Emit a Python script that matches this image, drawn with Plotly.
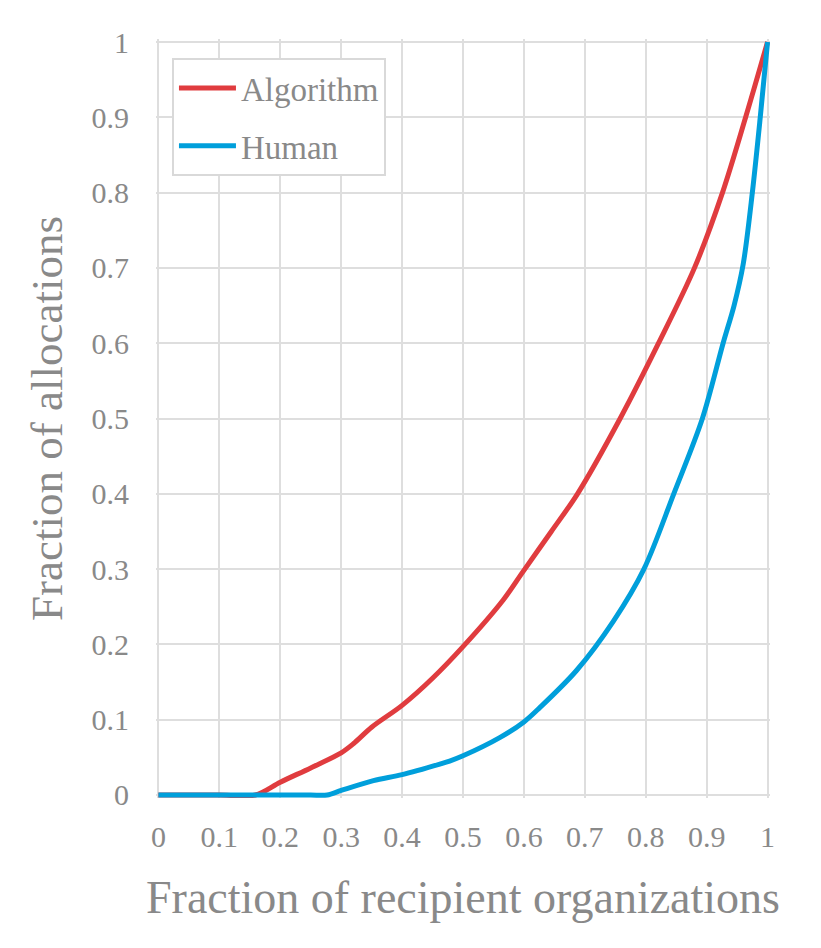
import plotly.graph_objects as go

# Data
algo_x = [0, 0.05, 0.10, 0.159, 0.20, 0.25, 0.30, 0.32, 0.35, 0.40, 0.45, 0.50,
          0.566, 0.598, 0.645, 0.688, 0.758, 0.821, 0.880, 0.926, 0.964, 1.0]
algo_y = [0, 0, 0, 0, 0.017, 0.036, 0.056, 0.068, 0.090, 0.119, 0.155, 0.197,
          0.259, 0.296, 0.350, 0.400, 0.500, 0.600, 0.700, 0.800, 0.900, 1.0]

human_x = [0, 0.05, 0.10, 0.15, 0.20, 0.25, 0.277, 0.30, 0.353, 0.40, 0.462, 0.478,
           0.50, 0.561, 0.60, 0.626, 0.686, 0.747, 0.797, 0.846, 0.893, 0.927,
           0.945, 0.960, 0.975, 0.988, 1.0]
human_y = [0, 0, 0, 0, 0, 0, 0, 0.006, 0.019, 0.027, 0.041, 0.045,
           0.052, 0.0765, 0.097, 0.116, 0.165, 0.231, 0.300, 0.400, 0.500, 0.600,
           0.650, 0.705, 0.800, 0.900, 1.0]

tick_vals = [0, 0.1, 0.2, 0.3, 0.4, 0.5, 0.6, 0.7, 0.8, 0.9, 1.0]
tick_text = ["0", "0.1", "0.2", "0.3", "0.4", "0.5", "0.6", "0.7", "0.8", "0.9", "1"]

FONT = "Liberation Serif, Times New Roman, serif"
TXT = "#898989"
GRID = "#DEDEDE"

# page body has an 8px margin; margins compensate so the plot lands where the reference has it
L, T, W, H = 148, 31, 614, 759

fig = go.Figure()
fig.add_trace(go.Scatter(x=algo_x, y=algo_y, mode="lines", name="Algorithm",
                         legendgroup="a",
                         line=dict(color="#E03C3F", width=5, shape="spline", smoothing=0.9)))
fig.add_trace(go.Scatter(x=human_x, y=human_y, mode="lines", name="Human",
                         legendgroup="h",
                         line=dict(color="#009FDB", width=5, shape="spline", smoothing=0.9)))

axis_common = dict(
    tickvals=tick_vals, ticktext=tick_text,
    showgrid=True, gridcolor=GRID, gridwidth=2,
    zeroline=True, zerolinecolor=GRID, zerolinewidth=2,
    showline=False, ticks="",
    tickfont=dict(family=FONT, size=30, color=TXT),
    range=[-0.004, 1.004], fixedrange=True,
)

fig.update_layout(
    width=821, height=948,
    paper_bgcolor="white", plot_bgcolor="white",
    margin=dict(l=L, r=821 - L - W, t=T, b=948 - T - H),
    font=dict(family=FONT, color=TXT),
    xaxis=dict(**axis_common,
               title=dict(text="Fraction of recipient organizations",
                          font=dict(family=FONT, size=46, color=TXT), standoff=28),
               ticklabelstandoff=18),
    yaxis=dict(**axis_common,
               title=dict(text="Fraction of allocations",
                          font=dict(family=FONT, size=45, color=TXT), standoff=14),
               ticklabelstandoff=26),
    legend=dict(x=0.026, y=0.975, xanchor="left", yanchor="top",
                bgcolor="white", bordercolor="#D9D9D9", borderwidth=2,
                font=dict(family=FONT, size=33, color=TXT),
                tracegroupgap=12, itemwidth=57),
    showlegend=True,
    shapes=[dict(type="rect", xref="paper", yref="paper",
                 x0=(-1 - L) / W, x1=1.4, y0=-0.4, y1=1 + (T + 3) / H,
                 line=dict(color="#D9D9D9", width=2), fillcolor="rgba(0,0,0,0)",
                 layer="below")],
)

fig.write_html("out.html")
